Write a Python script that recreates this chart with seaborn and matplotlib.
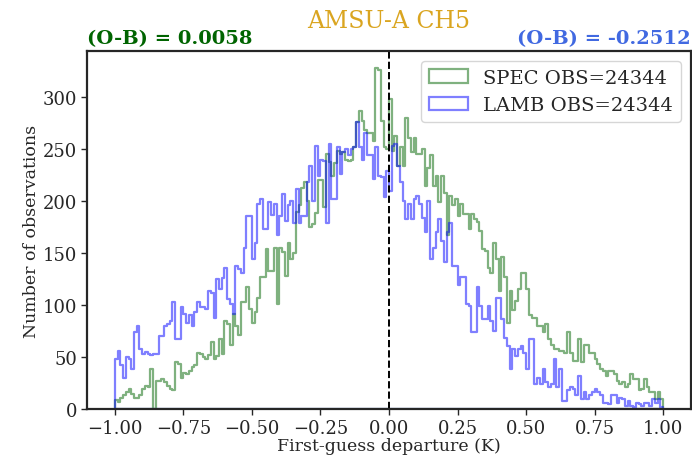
import numpy as np
import pandas as pd
import matplotlib
matplotlib.use("Agg")
import matplotlib.pyplot as plt
from matplotlib.patches import Patch
from matplotlib.colors import to_rgba
import seaborn as sns

# ---- data (counts per 0.01 K bin, from -1.00 to 1.00) ----
bin_range = (-1.0, 1.0)
n_bins = 200

spec_counts = [
    9, 7, 11, 13, 16, 19, 14, 11, 11, 13, 19, 22, 21, 38, 0, 27, 27, 29, 26, 22,
    19, 18, 45, 43, 30, 35, 34, 37, 40, 42, 54, 53, 50, 48, 52, 64, 48, 51, 67, 53,
    85, 82, 62, 91, 80, 71, 103, 103, 117, 96, 83, 93, 107, 127, 127, 154, 133, 133, 155, 101,
    155, 151, 128, 160, 144, 150, 190, 196, 213, 218, 200, 175, 178, 189, 220, 220, 194, 245, 238, 224,
    237, 248, 245, 247, 240, 239, 240, 252, 276, 287, 277, 268, 266, 266, 258, 328, 326, 277, 252, 250,
    298, 248, 263, 234, 252, 234, 280, 261, 247, 261, 245, 245, 250, 215, 232, 244, 215, 224, 199, 224,
    208, 167, 205, 196, 202, 186, 197, 188, 188, 173, 188, 183, 180, 171, 154, 152, 136, 131, 160, 144,
    114, 146, 127, 83, 114, 95, 104, 115, 131, 131, 115, 90, 88, 88, 80, 80, 74, 82, 67, 62,
    58, 58, 56, 56, 54, 74, 54, 46, 46, 67, 45, 62, 62, 54, 54, 48, 43, 38, 37, 32,
    37, 37, 34, 27, 24, 26, 21, 24, 34, 29, 29, 18, 19, 29, 21, 16, 16, 10, 16, 10,
]

lamb_counts = [
    48, 56, 42, 30, 50, 48, 38, 74, 80, 58, 53, 55, 53, 52, 53, 53, 70, 70, 80, 82,
    85, 103, 67, 67, 98, 91, 83, 90, 80, 93, 103, 98, 98, 96, 114, 112, 88, 125, 115, 126,
    136, 106, 101, 91, 138, 135, 131, 155, 186, 186, 144, 160, 197, 202, 173, 173, 199, 187, 197, 167,
    186, 207, 181, 196, 200, 179, 212, 179, 186, 186, 218, 234, 200, 253, 224, 240, 239, 179, 255, 202,
    202, 252, 226, 247, 250, 244, 250, 252, 276, 252, 240, 266, 244, 244, 221, 252, 224, 223, 204, 229,
    210, 253, 255, 234, 218, 200, 183, 197, 183, 202, 205, 197, 184, 170, 200, 144, 155, 170, 183, 162,
    141, 170, 179, 138, 138, 119, 127, 127, 101, 99, 74, 74, 117, 99, 87, 87, 99, 85, 75, 107,
    107, 87, 68, 61, 38, 58, 51, 58, 61, 54, 38, 67, 67, 24, 30, 24, 38, 26, 21, 24,
    48, 21, 38, 8, 8, 18, 21, 19, 13, 32, 10, 16, 10, 13, 16, 19, 16, 13, 6, 6,
    5, 13, 13, 6, 11, 10, 3, 8, 3, 2, 6, 5, 3, 6, 6, 3, 10, 6, 10, 2,
]

spec_label = "SPEC OBS=24344"
lamb_label = "LAMB OBS=24344"
spec_mean_text = "(O-B) = 0.0058"
lamb_mean_text = "(O-B) = -0.2512"
title_text = "AMSU-A CH5"
x_label = "First-guess departure (K)"
y_label = "Number of observations"
x_ticks = [-1.0, -0.75, -0.5, -0.25, 0.0, 0.25, 0.5, 0.75, 1.0]
y_ticks = [0, 50, 100, 150, 200, 250, 300]

# ---- build tables ----
width = (bin_range[1] - bin_range[0]) / n_bins
centers = bin_range[0] + width * (np.arange(n_bins) + 0.5)
df_spec = pd.DataFrame({"dep": centers, "n": spec_counts})
df_lamb = pd.DataFrame({"dep": centers, "n": lamb_counts})

# ---- style ----
sns.set_style("ticks")
plt.rcParams["font.family"] = ["DejaVu Serif"]
plt.rcParams["axes.linewidth"] = 1.6

fig = plt.figure(figsize=(6.92, 4.56), dpi=100)
ax = fig.add_axes([0.1263, 0.1009, 0.8717, 0.785])

spec_color = to_rgba("darkgreen", 0.5)
lamb_color = to_rgba("blue", 0.5)

# filled step with transparent face -> closed outline down to zero at both ends
sns.histplot(data=df_spec, x="dep", weights="n", bins=n_bins, binrange=bin_range,
             element="step", fill=True, color="darkgreen", facecolor="none",
             edgecolor=spec_color, linewidth=1.6, ax=ax)
sns.histplot(data=df_lamb, x="dep", weights="n", bins=n_bins, binrange=bin_range,
             element="step", fill=True, color="blue", facecolor="none",
             edgecolor=lamb_color, linewidth=1.6, ax=ax)

ax.axvline(0, color="black", linestyle="--", linewidth=1.4)

ax.set_xlim(-1.1, 1.1)
ax.set_ylim(bottom=0)
ax.set_xticks(x_ticks)
ax.set_xticklabels([f"{v:.2f}".replace("-", "\u2212") for v in x_ticks])
ax.set_yticks(y_ticks)
ax.tick_params(labelsize=13, length=4, width=1)
ax.set_xlabel(x_label, fontsize=12.5, labelpad=0)
ax.set_ylabel(y_label, fontsize=12.5, labelpad=2)
for s in ax.spines.values():
    s.set_visible(True)
    s.set_linewidth(1.6)
    s.set_zorder(3)

handles = [
    Patch(facecolor="none", edgecolor=spec_color, linewidth=1.6, label=spec_label),
    Patch(facecolor="none", edgecolor=lamb_color, linewidth=1.6, label=lamb_label),
]
ax.legend(handles=handles, loc="upper right", fontsize=14, frameon=True)

ax.text(0.0, 1.012, spec_mean_text, transform=ax.transAxes, ha="left", va="bottom",
        fontsize=14, fontweight="bold", color="darkgreen")
ax.text(1.0, 1.012, lamb_mean_text, transform=ax.transAxes, ha="right", va="bottom",
        fontsize=14, fontweight="bold", color="royalblue")
fig.text(0.561, 0.952, title_text, ha="center", va="center", fontsize=17, color="goldenrod")

fig.savefig("out.png", dpi=100)
